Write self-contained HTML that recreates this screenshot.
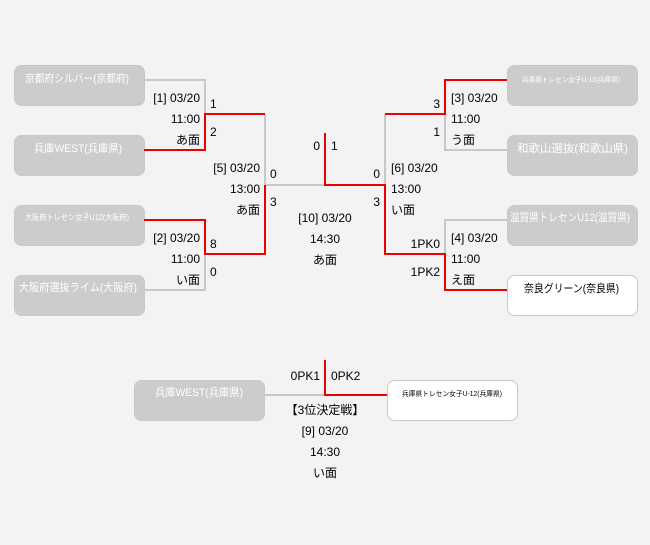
<!DOCTYPE html>
<html><head><meta charset="utf-8"><style>
html,body{margin:0;padding:0;background:#f3f3f3;}
svg{display:block;font-family:"Liberation Sans","Noto Sans CJK JP",sans-serif;}
</style></head><body>
<svg width="650" height="545" viewBox="0 0 650 545" xmlns="http://www.w3.org/2000/svg">
<rect width="650" height="545" fill="#f3f3f3"/>
<g fill="#cccccc" stroke="#c8c8c8">
<rect x="14.5" y="65.5" width="130" height="40" rx="7"/>
<rect x="14.5" y="135.5" width="130" height="40" rx="7"/>
<rect x="14.5" y="205.5" width="130" height="40" rx="7"/>
<rect x="14.5" y="275.5" width="130" height="40" rx="7"/>
<rect x="507.5" y="65.5" width="130" height="40" rx="7"/>
<rect x="507.5" y="135.5" width="130" height="40" rx="7"/>
<rect x="507.5" y="205.5" width="130" height="40" rx="7"/>
<rect x="134.5" y="380.5" width="130" height="40" rx="7"/>
</g>
<g fill="#ffffff" stroke="#c8c8c8">
<rect x="507.5" y="275.5" width="130" height="40" rx="7"/>
<rect x="387.5" y="380.5" width="130" height="40" rx="7"/>
</g>
<g fill="none" stroke="#c8c8c8" stroke-width="2">
<polyline points="144,80 205,80 205,114"/>
<polyline points="144,290 205,290 205,254"/>
<polyline points="265,114 265,185 325,185"/>
<polyline points="385,185 385,114"/>
<polyline points="445,114 445,150 507,150"/>
<polyline points="507,220 445,220 445,254"/>
<line x1="265" y1="395" x2="325" y2="395"/>
</g>
<g fill="none" stroke="#ee0000" stroke-width="2">
<polyline points="144,150 205,150 205,114 265,114"/>
<polyline points="144,220 205,220 205,254 265,254 265,185"/>
<polyline points="325,133 325,185 385,185 385,254 445,254 445,290 507,290"/>
<polyline points="385,114 445,114 445,80 507,80"/>
<polyline points="325,360 325,395 387,395"/>
</g>
<g fill="#ffffff" font-size="11">
<text x="25" y="82" textLength="104" lengthAdjust="spacingAndGlyphs">京都府シルバー(京都府)</text>
<text x="34" y="152" textLength="88" lengthAdjust="spacingAndGlyphs">兵庫WEST(兵庫県)</text>
<text x="25" y="220" font-size="8" textLength="104" lengthAdjust="spacingAndGlyphs">大阪府トレセン女子U12(大阪府)</text>
<text x="19" y="291" textLength="118" lengthAdjust="spacingAndGlyphs">大阪府選抜ライム(大阪府)</text>
<text x="522" y="82" font-size="7" textLength="98" lengthAdjust="spacingAndGlyphs">兵庫県トレセン女子U-12(兵庫県)</text>
<text x="517" y="152" textLength="111" lengthAdjust="spacingAndGlyphs">和歌山選抜(和歌山県)</text>
<text x="510" y="221" textLength="120" lengthAdjust="spacingAndGlyphs">滋賀県トレセンU12(滋賀県)</text>
<text x="155" y="396" textLength="88" lengthAdjust="spacingAndGlyphs">兵庫WEST(兵庫県)</text>
</g>
<g fill="#000" font-size="11">
<text x="524" y="292" textLength="95" lengthAdjust="spacingAndGlyphs">奈良グリーン(奈良県)</text>
<text x="402" y="396" font-size="7" textLength="100" lengthAdjust="spacingAndGlyphs">兵庫県トレセン女子U-12(兵庫県)</text>
</g>
<g fill="#000" font-size="12">
<g text-anchor="end">
<text x="200" y="102">[1] 03/20</text><text x="200" y="123">11:00</text><text x="200" y="144">あ面</text>
<text x="200" y="242">[2] 03/20</text><text x="200" y="263">11:00</text><text x="200" y="284">い面</text>
<text x="260" y="172">[5] 03/20</text><text x="260" y="193">13:00</text><text x="260" y="214">あ面</text>
<text x="320" y="150">0</text>
<text x="380" y="178">0</text><text x="380" y="206">3</text>
<text x="440" y="108">3</text><text x="440" y="136">1</text>
<text x="440" y="248">1PK0</text><text x="440" y="276">1PK2</text>
<text x="320" y="380">0PK1</text>
</g>
<text x="210" y="108">1</text><text x="210" y="136">2</text>
<text x="210" y="248">8</text><text x="210" y="276">0</text>
<text x="270" y="178">0</text><text x="270" y="206">3</text>
<text x="331" y="150">1</text>
<text x="391" y="172">[6] 03/20</text><text x="391" y="193">13:00</text><text x="391" y="214">い面</text>
<text x="451" y="102">[3] 03/20</text><text x="451" y="123">11:00</text><text x="451" y="144">う面</text>
<text x="451" y="242">[4] 03/20</text><text x="451" y="263">11:00</text><text x="451" y="284">え面</text>
<text x="331" y="380">0PK2</text>
<g text-anchor="middle">
<text x="325" y="222">[10] 03/20</text><text x="325" y="243">14:30</text><text x="325" y="264">あ面</text>
<text x="325" y="414">【3位決定戦】</text><text x="325" y="435">[9] 03/20</text><text x="325" y="456">14:30</text><text x="325" y="477">い面</text>
</g>
</g>
</svg>
</body></html>
